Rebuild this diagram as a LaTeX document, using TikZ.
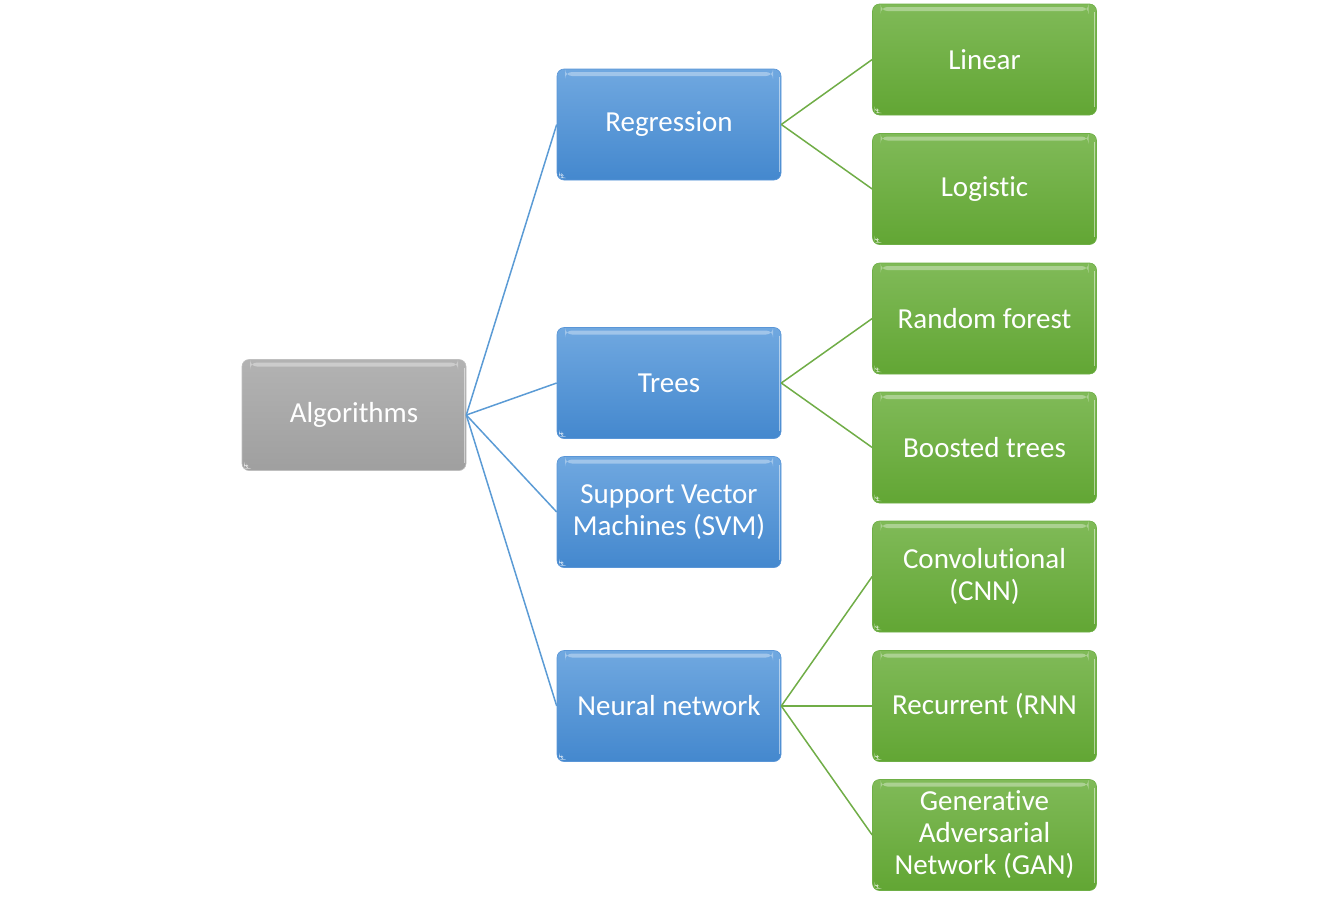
\documentclass[tikz,border=0pt]{standalone}
\usepackage{fontspec}
\setmainfont{Carlito}[Ligatures=NoCommon]
\begin{document}
\begin{tikzpicture}[x=1pt,y=-1pt,
  box/.style={rounded corners=7pt, minimum width=224pt, minimum height=111pt,
    text=white, align=center, inner sep=2pt,
    font=\fontsize{29}{32}\selectfont,
    path picture={
      \fill[white,opacity=0.35] ([xshift=8pt,yshift=-3pt]path picture bounding box.north west) rectangle ([xshift=-8pt,yshift=-7pt]path picture bounding box.north east);
      \fill[white,opacity=0.7] ([xshift=2pt,yshift=2pt]path picture bounding box.south west) -- ++(7pt,0) -- ++(-7pt,7pt) -- cycle;
      \draw[white,opacity=0.5,line width=1pt] ([xshift=-2pt,yshift=-8pt]path picture bounding box.north east) -- ([xshift=-2pt,yshift=8pt]path picture bounding box.south east);
    }},
  graybox/.style={box, top color=gray!60!white, bottom color=gray!75!white, draw=gray!50, line width=0.6pt},
  bluebox/.style={box, top color={rgb,255:red,112;green,168;blue,224}, bottom color={rgb,255:red,68;green,136;blue,206}, draw={rgb,255:red,90;green,150;blue,215}, line width=0.6pt},
  greenbox/.style={box, top color={rgb,255:red,128;green,186;blue,88}, bottom color={rgb,255:red,98;green,166;blue,52}, draw={rgb,255:red,110;green,175;blue,70}, line width=0.6pt},
  blueline/.style={draw={rgb,255:red,91;green,155;blue,213}, line width=1.5pt},
  greenline/.style={draw={rgb,255:red,112;green,173;blue,71}, line width=1.5pt}
]
\useasboundingbox (0,0) rectangle (1335,902);

\node[graybox] (alg) at (354,415) {Algorithms};

\node[bluebox] (reg) at (669,124.5) {Regression};
\node[bluebox] (tree) at (669,383) {Trees};
\node[bluebox] (svm) at (669,512) {Support Vector\\Machines (SVM)};
\node[bluebox] (nn) at (669,706) {Neural network};

\node[greenbox] (lin) at (984.5,59.5) {Linear};
\node[greenbox] (log) at (984.5,189) {Logistic};
\node[greenbox] (rf) at (984.5,318.5) {Random forest};
\node[greenbox] (bt) at (984.5,447.5) {Boosted trees};
\node[greenbox] (cnn) at (984.5,576.5) {Convolutional\\(CNN)};
\node[greenbox] (rnn) at (984.5,706) {Recurrent (RNN};
\node[greenbox] (gan) at (984.5,835) {Generative\\Adversarial\\Network (GAN)};

\foreach \t in {reg,tree,svm,nn}
  \draw[blueline] (alg.east) -- (\t.west);

\draw[greenline] (reg.east) -- (lin.west);
\draw[greenline] (reg.east) -- (log.west);
\draw[greenline] (tree.east) -- (rf.west);
\draw[greenline] (tree.east) -- (bt.west);
\draw[greenline] (nn.east) -- (cnn.west);
\draw[greenline] (nn.east) -- (rnn.west);
\draw[greenline] (nn.east) -- (gan.west);
\end{tikzpicture}
\end{document}
